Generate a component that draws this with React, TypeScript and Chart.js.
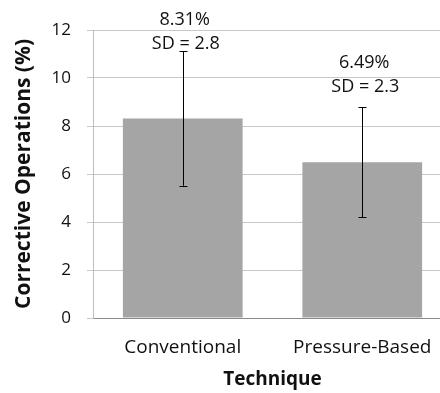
import React, { useEffect, useRef } from "react";
import { Chart, registerables } from "chart.js";

Chart.register(...registerables);

const categories = ["Conventional", "Pressure-Based"];
const means = [8.31, 6.49];
const sds = [2.8, 2.3];
const yTicks = [0, 2, 4, 6, 8, 10, 12];

const FONT = "'Open Sans'";
const TEXT = "#111111";

const errorBarPlugin = {
  id: "errorBars",
  afterDatasetsDraw(chart: any) {
    const meta = chart.getDatasetMeta(0);
    const y = chart.scales.y;
    const ctx = chart.ctx;
    ctx.save();
    ctx.strokeStyle = "#000000";
    ctx.lineWidth = 1;
    meta.data.forEach((el: any, i: number) => {
      const x = Math.round(el.x) + 0.5;
      const yTop = y.getPixelForValue(means[i] + sds[i]);
      const yBot = y.getPixelForValue(means[i] - sds[i]);
      ctx.beginPath();
      ctx.moveTo(x, yTop);
      ctx.lineTo(x, yBot);
      ctx.moveTo(x - 4, Math.round(yTop) + 0.5);
      ctx.lineTo(x + 4, Math.round(yTop) + 0.5);
      ctx.moveTo(x - 4, Math.round(yBot) + 0.5);
      ctx.lineTo(x + 4, Math.round(yBot) + 0.5);
      ctx.stroke();
      const barTop = y.getPixelForValue(means[i]);
      ctx.fillStyle = TEXT;
      ctx.font = `18px ${FONT}`;
      ctx.textAlign = "center";
      ctx.textBaseline = "middle";
      ctx.fillText(`${means[i].toFixed(2)}%`, el.x + 2, barTop - 99);
      ctx.fillText(`SD = ${sds[i]}`, el.x + 3, barTop - 75);
    });
    const area = chart.chartArea;
    ctx.save();
    ctx.translate(24, (area.top + area.bottom) / 2);
    ctx.rotate(-Math.PI / 2);
    ctx.font = `bold 21px ${FONT}`;
    ctx.fillStyle = TEXT;
    ctx.textAlign = "center";
    ctx.textBaseline = "middle";
    ctx.fillText("Corrective Operations (%)", 0, 0);
    ctx.restore();
    ctx.restore();
  },
};

export default function App() {
  const ref = useRef<HTMLCanvasElement>(null);
  useEffect(() => {
    if (!ref.current) return;
    const chart = new Chart(ref.current, {
      type: "bar",
      data: {
        labels: categories,
        datasets: [
          {
            data: means,
            backgroundColor: "#A5A5A5",
            borderWidth: 0,
            barPercentage: 0.667,
            categoryPercentage: 1,
          },
        ],
      },
      options: {
        animation: false,
        responsive: false,
        devicePixelRatio: 1,
        layout: { padding: { top: 30, left: 0, right: 0, bottom: 0 } },
        plugins: { legend: { display: false }, tooltip: { enabled: false } },
        scales: {
          x: {
            grid: { display: false, drawTicks: false },
            border: { display: true, color: "#8C8C8C", width: 1 },
            ticks: { color: TEXT, font: { family: FONT, size: 19 }, padding: 18 },
            title: {
              display: true,
              text: "Technique",
              color: TEXT,
              font: { family: FONT, size: 19, weight: "bold" },
              padding: { top: 0, bottom: 2 },
            },
            afterFit: (s: any) => {
              s.height = 75;
            },
          },
          y: {
            min: 0,
            max: 12,
            afterBuildTicks: (s: any) => {
              s.ticks = yTicks.map((v) => ({ value: v }));
            },
            grid: { color: "#C8C8C8", tickLength: 6, lineWidth: 1 },
            border: { display: true, color: "#BEBEBE", width: 1 },
            ticks: { color: TEXT, font: { family: FONT, size: 17 }, padding: 16 },
            afterFit: (s: any) => {
              s.width = 93;
            },
          },
        },
      },
      plugins: [errorBarPlugin],
    });
    return () => chart.destroy();
  }, []);
  return (
    <div style={{ position: "absolute", left: 0, top: 0, width: 440, height: 393, overflow: "hidden", background: "#fff" }}>
      <canvas ref={ref} width={452} height={393} style={{ display: "block" }} />
    </div>
  );
}
